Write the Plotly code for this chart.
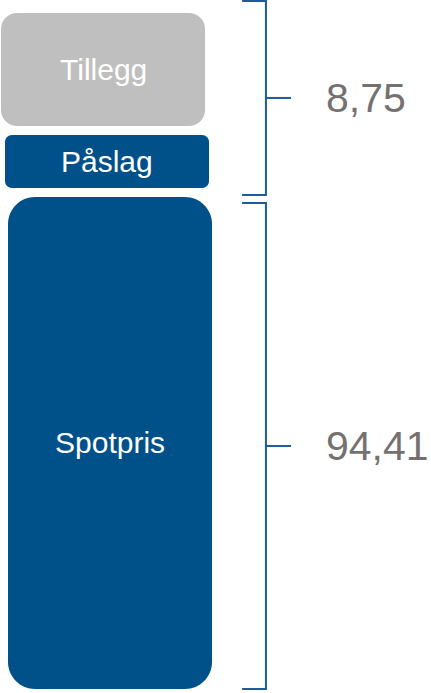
import plotly.graph_objects as go

# ---- data ----
segments = ["Spotpris", "Påslag", "Tillegg"]          # bottom -> top
segment_heights = [94.41, 10.2, 21.7]                   # drawn heights (schematic)
group_labels = ["94,41", "8,75"]                        # bracket labels: [Spotpris], [Påslag+Tillegg]
group_members = [[0], [1, 2]]

# ---- style ----
W, H = 431, 693
seg_fill = ["#00518A", "#00518A", "#BFBFBF"]
seg_text = ["#FFFFFF", "#FFFFFF", "#FFFFFF"]
seg_radius_px = [27, 7, 16]
seg_xshift = [0.0147, 0.0, -0.0196]
gap = 1.7
bar_half = 0.5
x_range = [-0.5245, 1.588]
y_range = [-0.77, 132.2]
bracket_color = "#1D5C99"
label_color = "#767171"
bracket_ext = [(0.0, -1.15), (1.31, 2.3)]   # (bottom extension, top extension)
xa, xv, xt, xl = 0.662, 0.779, 0.902, 1.083

px_x = W / (x_range[1] - x_range[0])
px_y = H / (y_range[1] - y_range[0])


def rounded_rect(x0, x1, y0, y1, r):
    rx, ry = r / px_x, r / px_y
    k = 0.5523
    p = [
        f"M {x0+rx},{y0}",
        f"L {x1-rx},{y0}",
        f"C {x1-rx+k*rx},{y0} {x1},{y0+ry-k*ry} {x1},{y0+ry}",
        f"L {x1},{y1-ry}",
        f"C {x1},{y1-ry+k*ry} {x1-rx+k*rx},{y1} {x1-rx},{y1}",
        f"L {x0+rx},{y1}",
        f"C {x0+rx-k*rx},{y1} {x0},{y1-ry+k*ry} {x0},{y1-ry}",
        f"L {x0},{y0+ry}",
        f"C {x0},{y0+ry-k*ry} {x0+rx-k*rx},{y0} {x0+rx},{y0}",
        "Z",
    ]
    return " ".join(p)


fig = go.Figure()
fig.add_trace(go.Scatter(x=[0], y=[0], mode="markers", marker=dict(opacity=0), hoverinfo="skip", showlegend=False))

shapes, annotations = [], []
bottoms, tops = [], []
y = 0.0
for i, (name, h) in enumerate(zip(segments, segment_heights)):
    if i > 0:
        y += gap
    y0, y1 = y, y + h
    bottoms.append(y0)
    tops.append(y1)
    x0 = -bar_half + seg_xshift[i]
    x1 = bar_half + seg_xshift[i]
    shapes.append(dict(type="path", xref="x", yref="y", path=rounded_rect(x0, x1, y0, y1, seg_radius_px[i]),
                       fillcolor=seg_fill[i], line=dict(width=0), layer="above"))
    annotations.append(dict(x=(x0 + x1) / 2, y=(y0 + y1) / 2, xref="x", yref="y", text=name, showarrow=False,
                            font=dict(family="Liberation Sans, Arial", size=30, color=seg_text[i]),
                            xanchor="center", yanchor="middle"))
    y = y1

for g, (members, label) in enumerate(zip(group_members, group_labels)):
    yb = bottoms[members[0]] - bracket_ext[g][0]
    yt = tops[members[-1]] + bracket_ext[g][1]
    ym = (yb + yt) / 2
    shapes.append(dict(type="path", xref="x", yref="y",
                       path=f"M {xa},{yt} L {xv},{yt} L {xv},{yb} L {xa},{yb}",
                       line=dict(color=bracket_color, width=2)))
    shapes.append(dict(type="line", xref="x", yref="y", x0=xv, x1=xt, y0=ym, y1=ym,
                       line=dict(color=bracket_color, width=2)))
    annotations.append(dict(x=xl, y=ym, xref="x", yref="y", text=label, showarrow=False,
                            font=dict(family="Liberation Sans, Arial", size=41, color=label_color),
                            xanchor="left", yanchor="middle", xshift=-4))

fig.update_layout(
    width=W, height=H,
    margin=dict(l=0, r=0, t=0, b=0),
    paper_bgcolor="white", plot_bgcolor="white",
    xaxis=dict(range=x_range, visible=False, fixedrange=True),
    yaxis=dict(range=y_range, visible=False, fixedrange=True),
    shapes=shapes, annotations=annotations,
    showlegend=False,
)
fig.write_html("out.html", config={"displayModeBar": False},
               post_script="document.body.style.margin='0';document.body.style.overflow='hidden';")
